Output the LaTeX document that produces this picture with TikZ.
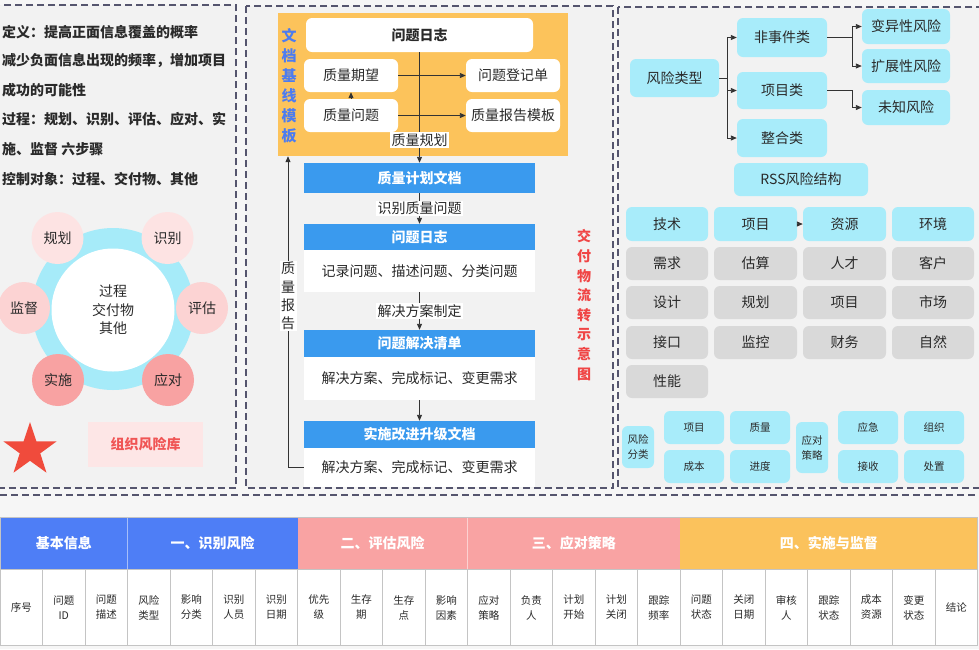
\documentclass[tikz,border=0pt]{standalone}
\usepackage{fontspec}
\setmainfont{Noto Sans CJK SC}
\usetikzlibrary{arrows.meta,shapes.geometric}
\definecolor{bg}{HTML}{F6F6F6}
\definecolor{panelbg}{HTML}{F2F2F2}
\definecolor{dashc}{HTML}{55556E}
\definecolor{ringc}{HTML}{A6EBF9}
\definecolor{cyanbox}{HTML}{A8ECFA}
\definecolor{graybox}{HTML}{D9D9D9}
\definecolor{pinka}{HTML}{FDE3E3}
\definecolor{pinkb}{HTML}{FCD3D3}
\definecolor{pinkc}{HTML}{F8A2A2}
\definecolor{starred}{HTML}{F04B3C}
\definecolor{bankfill}{HTML}{FDE6E6}
\definecolor{bankred}{HTML}{F05555}
\definecolor{orangebox}{HTML}{FCC35B}
\definecolor{docblue}{HTML}{4C7CF0}
\definecolor{barblue}{HTML}{3A9AEE}
\definecolor{redtxt}{HTML}{F04545}
\definecolor{arrc}{HTML}{333333}
\definecolor{hblue}{HTML}{4E7EF6}
\definecolor{hpink}{HTML}{F9A3A3}
\definecolor{horange}{HTML}{FBC25C}
\definecolor{tline}{HTML}{C4C4C4}
\definecolor{txt}{HTML}{2A2A2A}
\newcommand\fs[2]{\fontsize{#1}{#2}\selectfont}
\tikzset{
  panel/.style={draw=dashc, dash pattern=on 7pt off 4pt, line width=1.2pt, fill=panelbg},
  wbox/.style={rectangle, rounded corners=6pt, fill=white, inner sep=0pt, font=\fs{14}{16}},
  cbox/.style={rectangle, rounded corners=6pt, fill=cyanbox, inner sep=0pt, font=\fs{14}{16}},
  gbox/.style={rectangle, rounded corners=6pt, fill=graybox, inner sep=0pt, font=\fs{14}{16}},
  sbox/.style={rectangle, rounded corners=6pt, fill=cyanbox, inner sep=0pt, font=\fs{10.5}{15}, align=center},
  bar/.style={rectangle, fill=barblue, inner sep=0pt, text=white, font=\fs{14}{16}\bfseries},
  body/.style={rectangle, fill=white, inner sep=0pt, font=\fs{14}{16}},
  circ/.style={circle, inner sep=0pt, minimum size=52pt, font=\fs{14}{16}},
  arr/.style={-{Triangle[length=6pt,width=5pt]}, line width=0.9pt, draw=arrc},
  lbl/.style={fill=white, inner sep=1.5pt, font=\fs{14}{16}},
  ltxt/.style={anchor=west, inner sep=0pt, font=\fs{14}{16}\bfseries}
}
\begin{document}
\begin{tikzpicture}[x=1pt,y=-1pt, every node/.append style={text=txt}]
\useasboundingbox (0,0) rectangle (979,649);
\fill[bg] (0,0) rectangle (979,649);
% panels
\draw[panel] (-3,5) rectangle (236,488);
\draw[panel] (246,6) rectangle (613,488);
\draw[panel] (618,7) rectangle (985,488);
\draw[dashc, dash pattern=on 7pt off 4pt, line width=1.2pt] (0,495) -- (979,495);

% ---------- left panel ----------
\node[ltxt] (t1) at (2,32) {定义：提高正面信息覆盖的概率};
\node[ltxt] (t2) at (2,61) {减少负面信息出现的频率，增加项目};
\node[ltxt] (t3) at (2,90) {成功的可能性};
\node[ltxt] (t4) at (2,119) {过程：规划、识别、评估、应对、实};
\node[ltxt] (t5) at (2,149) {施、监督 六步骤};
\node[ltxt] (t6) at (2,179) {控制对象：过程、交付物、其他};

\node[circle, fill=ringc, minimum size=162pt, inner sep=0pt] (ring) at (113,309) {};
\node[circle, fill=white, minimum size=123pt, inner sep=0pt, align=center, font=\fs{14}{18.5}] (core) at (113,310) {过程\\交付物\\其他};
\node[circ, fill=pinka] (c1) at (57.5,238) {规划};
\node[circ, fill=pinka] (c2) at (167.5,238) {识别};
\node[circ, fill=pinkb] (c3) at (202,308) {评估};
\node[circ, fill=pinkc] (c4) at (168,380) {应对};
\node[circ, fill=pinkc] (c5) at (58,380) {实施};
\node[circ, fill=pinkb] (c6) at (24,308) {监督};

\fill[starred] (30,450) +(-90:28) -- +(-54:10.8) -- +(-18:28) -- +(18:10.8) -- +(54:28)
  -- +(90:10.8) -- +(126:28) -- +(162:10.8) -- +(198:28) -- +(234:10.8) -- cycle;
\node[rectangle, fill=bankfill, minimum width=115pt, minimum height=45pt, inner sep=0pt,
  text=bankred, font=\fs{14}{16}\bfseries] (bank) at (145.5,444.5) {组织风险库};

% ---------- middle panel ----------
\node[rectangle, fill=orangebox, minimum width=290pt, minimum height=143pt, inner sep=0pt] (orange) at (423,84.5) {};
\node[align=center, inner sep=0pt, text=docblue, font=\fs{15}{20}\bfseries] (doctxt) at (289,86) {文\\档\\基\\线\\模\\板};
\node[wbox, minimum width=227pt, minimum height=34pt, font=\fs{14}{16}\bfseries] (log0) at (419.5,35) {问题日志};
\node[wbox, minimum width=94pt, minimum height=33pt] (qexp) at (351,75.5) {质量期望};
\node[wbox, minimum width=94pt, minimum height=33pt] (qprob) at (351,115.5) {质量问题};
\node[wbox, minimum width=94pt, minimum height=33pt] (reg) at (513,75.5) {问题登记单};
\node[wbox, minimum width=94pt, minimum height=33pt] (rpt) at (513,115.5) {质量报告模板};

\node[bar, minimum width=231pt, minimum height=30pt] (plan) at (419.5,178) {质量计划文档};
\node[bar, minimum width=231pt, minimum height=26pt] (h1) at (419.5,237) {问题日志};
\node[body, minimum width=231pt, minimum height=42pt] (b1) at (419.5,271) {记录问题、描述问题、分类问题};
\node[bar, minimum width=231pt, minimum height=27pt] (h2) at (419.5,343.5) {问题解决清单};
\node[body, minimum width=231pt, minimum height=43pt] (b2) at (419.5,378.5) {解决方案、完成标记、变更需求};
\node[bar, minimum width=231pt, minimum height=27pt] (h3) at (419.5,434.5) {实施改进升级文档};
\node[body, minimum width=231pt, minimum height=39pt] (b3) at (419.5,467.5) {解决方案、完成标记、变更需求};

\draw[arr] (log0.south) -- (plan.north);
\draw[arr] (qexp.east) -- (reg.west);
\draw[arr] (qprob.east) -- (rpt.west);
\draw[arr] (qprob.north) -- (qexp.south);
\node[lbl] (lplan) at (419.5,140) {质量规划};
\draw[arr] (plan.south) -- node[lbl] (lid) {识别质量问题} (h1.north);
\draw[arr] (b1.south) -- node[lbl] (lsol) {解决方案制定} (h2.north);
\draw[arr] (b2.south) -- (h3.north);
\coordinate (fb) at (288,467.5);
\draw[arr] (b3.west) -- (fb) -- (fb |- orange.south);
\node[lbl, align=center, font=\fs{14}{18.3}] (lrep) at (288,296) {质\\量\\报\\告};
\node[align=center, inner sep=0pt, text=redtxt, font=\fs{14}{19.6}\bfseries] (flow) at (584,305) {交\\付\\物\\流\\转\\示\\意\\图};

% ---------- right panel ----------
\node[cbox, minimum width=89pt, minimum height=38pt] (rtype) at (674.5,78) {风险类型};
\node[cbox, minimum width=90pt, minimum height=39pt] (nonev) at (782,37.5) {非事件类};
\node[cbox, minimum width=90pt, minimum height=37pt] (projc) at (782,90.5) {项目类};
\node[cbox, minimum width=90pt, minimum height=38pt] (integ) at (782,138) {整合类};
\node[cbox, minimum width=88pt, minimum height=35pt] (var) at (906,26.5) {变异性风险};
\node[cbox, minimum width=88pt, minimum height=34pt] (ext) at (906,66) {扩展性风险};
\node[cbox, minimum width=88pt, minimum height=35pt] (unk) at (906,107.5) {未知风险};
\node[cbox, minimum width=134pt, minimum height=33pt] (rss) at (801,179.5) {RSS风险结构};

\coordinate (bus1) at (727,78);
\draw[arr] (rtype.east) -- (bus1) |- (nonev.west);
\draw[arr] (bus1) |- (projc.west);
\draw[arr] (bus1) |- (integ.west);
\coordinate (bus2) at (852,37.5);
\draw[arr] (nonev.east) -- (bus2) |- (var.west);
\draw[arr] (bus2) |- (ext.west);
\coordinate (bus3) at (852,90.5);
\draw[arr] (projc.east) -- (bus3) |- (unk.west);

% grid
\node[cbox, minimum width=82pt, minimum height=34pt] (g11) at (667,224) {技术};
\node[cbox, minimum width=83pt, minimum height=34pt] (g12) at (755.5,224) {项目};
\node[cbox, minimum width=83pt, minimum height=34pt] (g13) at (844.5,224) {资源};
\node[cbox, minimum width=82pt, minimum height=34pt] (g14) at (933,224) {环境};
\draw[arr] (g12.east) -- (g13.west);
\node[gbox, minimum width=82pt, minimum height=33pt] (g21) at (667,263.5) {需求};
\node[gbox, minimum width=83pt, minimum height=33pt] (g22) at (755.5,263.5) {估算};
\node[gbox, minimum width=83pt, minimum height=33pt] (g23) at (844.5,263.5) {人才};
\node[gbox, minimum width=82pt, minimum height=33pt] (g24) at (933,263.5) {客户};
\node[gbox, minimum width=82pt, minimum height=33pt] (g31) at (667,302.5) {设计};
\node[gbox, minimum width=83pt, minimum height=33pt] (g32) at (755.5,302.5) {规划};
\node[gbox, minimum width=83pt, minimum height=33pt] (g33) at (844.5,302.5) {项目};
\node[gbox, minimum width=82pt, minimum height=33pt] (g34) at (933,302.5) {市场};
\node[gbox, minimum width=82pt, minimum height=33pt] (g41) at (667,342.5) {接口};
\node[gbox, minimum width=83pt, minimum height=33pt] (g42) at (755.5,342.5) {监控};
\node[gbox, minimum width=83pt, minimum height=33pt] (g43) at (844.5,342.5) {财务};
\node[gbox, minimum width=82pt, minimum height=33pt] (g44) at (933,342.5) {自然};
\node[gbox, minimum width=82pt, minimum height=33pt] (g51) at (667,381.5) {性能};

% small boxes
\node[sbox, minimum width=32pt, minimum height=42pt] (rcls) at (638,447) {风险\\分类};
\node[sbox, minimum width=60pt, minimum height=33pt] (s1) at (694,427.5) {项目};
\node[sbox, minimum width=60pt, minimum height=33pt] (s2) at (760,427.5) {质量};
\node[sbox, minimum width=60pt, minimum height=33pt] (s3) at (694,466.5) {成本};
\node[sbox, minimum width=60pt, minimum height=33pt] (s4) at (760,466.5) {进度};
\node[sbox, minimum width=32pt, minimum height=51pt] (rstr) at (812,447.5) {应对\\策略};
\node[sbox, minimum width=60pt, minimum height=33pt] (s5) at (868,427.5) {应急};
\node[sbox, minimum width=60pt, minimum height=33pt] (s6) at (934,427.5) {组织};
\node[sbox, minimum width=60pt, minimum height=33pt] (s7) at (868,466.5) {接收};
\node[sbox, minimum width=60pt, minimum height=33pt] (s8) at (934,466.5) {处置};

% ---------- table ----------
\def\cw{42.5}
\foreach \a/\b/\t/\c in {0/3/基本信息/hblue, 3/7/一、识别风险/hblue, 7/11/二、评估风险/hpink, 11/16/三、应对策略/hpink, 16/23/四、实施与监督/horange}{
  \fill[\c] (\a*\cw,517) rectangle (\b*\cw,569);
  \node[text=white, font=\fs{14}{16}\bfseries] at ({(\a+\b)*\cw/2},543) {\t};
}
\foreach \a in {3,11}{ \draw[white, opacity=0.5, line width=0.6pt] (\a*\cw,517) -- (\a*\cw,569); }
\fill[white] (0,569) rectangle (23*\cw,645);
\foreach \i in {1,...,22}{ \draw[tline, line width=0.8pt] (\i*\cw,569) -- (\i*\cw,645); }
\draw[tline, line width=0.8pt] (0,569) -- (23*\cw,569);
\draw[tline, line width=0.8pt] (0,517) rectangle (23*\cw,645);
\foreach \t [count=\i from 0] in {序号,{问题\\ID},{问题\\描述},{风险\\类型},{影响\\分类},{识别\\人员},{识别\\日期},{优先\\级},{生存\\期},{生存\\点},{影响\\因素},{应对\\策略},{负责\\人},{计划\\开始},{计划\\关闭},{跟踪\\频率},{问题\\状态},{关闭\\日期},{审核\\人},{跟踪\\状态},{成本\\资源},{变更\\状态},结论}{
  \node[align=center, inner sep=0pt, font=\fs{10.5}{15}] at ({(\i+0.5)*\cw},607.5) {\t};
}
\end{tikzpicture}
\end{document}
